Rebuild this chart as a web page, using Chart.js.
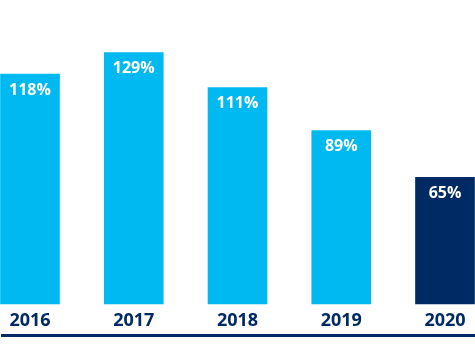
<!DOCTYPE html>
<html><head><meta charset="utf-8">
<script src="https://cdn.jsdelivr.net/npm/chart.js@4"></script>
<style>html,body{margin:0;padding:0;background:#fff}#wrap{width:475px;height:352px}</style>
</head><body><div id="wrap"><canvas id="c" width="475" height="352"></canvas></div>
<script>
const categories = ["2016", "2017", "2018", "2019", "2020"];
const values = [118, 129, 111, 89, 65];
const barColors = ["#00B9F1", "#00B9F1", "#00B9F1", "#00B9F1", "#002A64"];

const labelPlugin = {
  id: 'vlabels',
  afterDatasetsDraw(chart) {
    const ctx = chart.ctx;
    const meta = chart.getDatasetMeta(0);
    ctx.save();
    ctx.fillStyle = '#ffffff';
    ctx.font = 'bold 16px "Open Sans", sans-serif';
    ctx.textAlign = 'center';
    ctx.textBaseline = 'middle';
    meta.data.forEach((el, i) => {
      ctx.fillText(values[i] + '%', el.x, el.y + 16);
    });
    ctx.restore();
  }
};
const baseLine = {
  id: 'baseline',
  afterDraw(chart) {
    const ctx = chart.ctx;
    ctx.save();
    ctx.fillStyle = '#002A64';
    ctx.fillRect(1, chart.height - 18, chart.width - 1, 3);
    ctx.restore();
  }
};

new Chart(document.getElementById('c'), {
  type: 'bar',
  data: {
    labels: categories,
    datasets: [{ data: values, backgroundColor: barColors, barThickness: 59, clip: false }]
  },
  options: {
    responsive: false,
    animation: false,
    layout: { padding: { left: 30, right: 30, top: 0, bottom: 14.4 } },
    plugins: { legend: { display: false }, tooltip: { enabled: false } },
    scales: {
      x: {
        offset: false,
        grid: { display: false, drawTicks: false },
        border: { display: false },
        ticks: { color: '#002A64', font: { family: '"Open Sans", sans-serif', size: 18, weight: 'bold' }, padding: 6, maxRotation: 0, autoSkip: false }
      },
      y: { display: false, min: 0, max: 156 }
    }
  },
  plugins: [labelPlugin, baseLine]
});
</script></body></html>
